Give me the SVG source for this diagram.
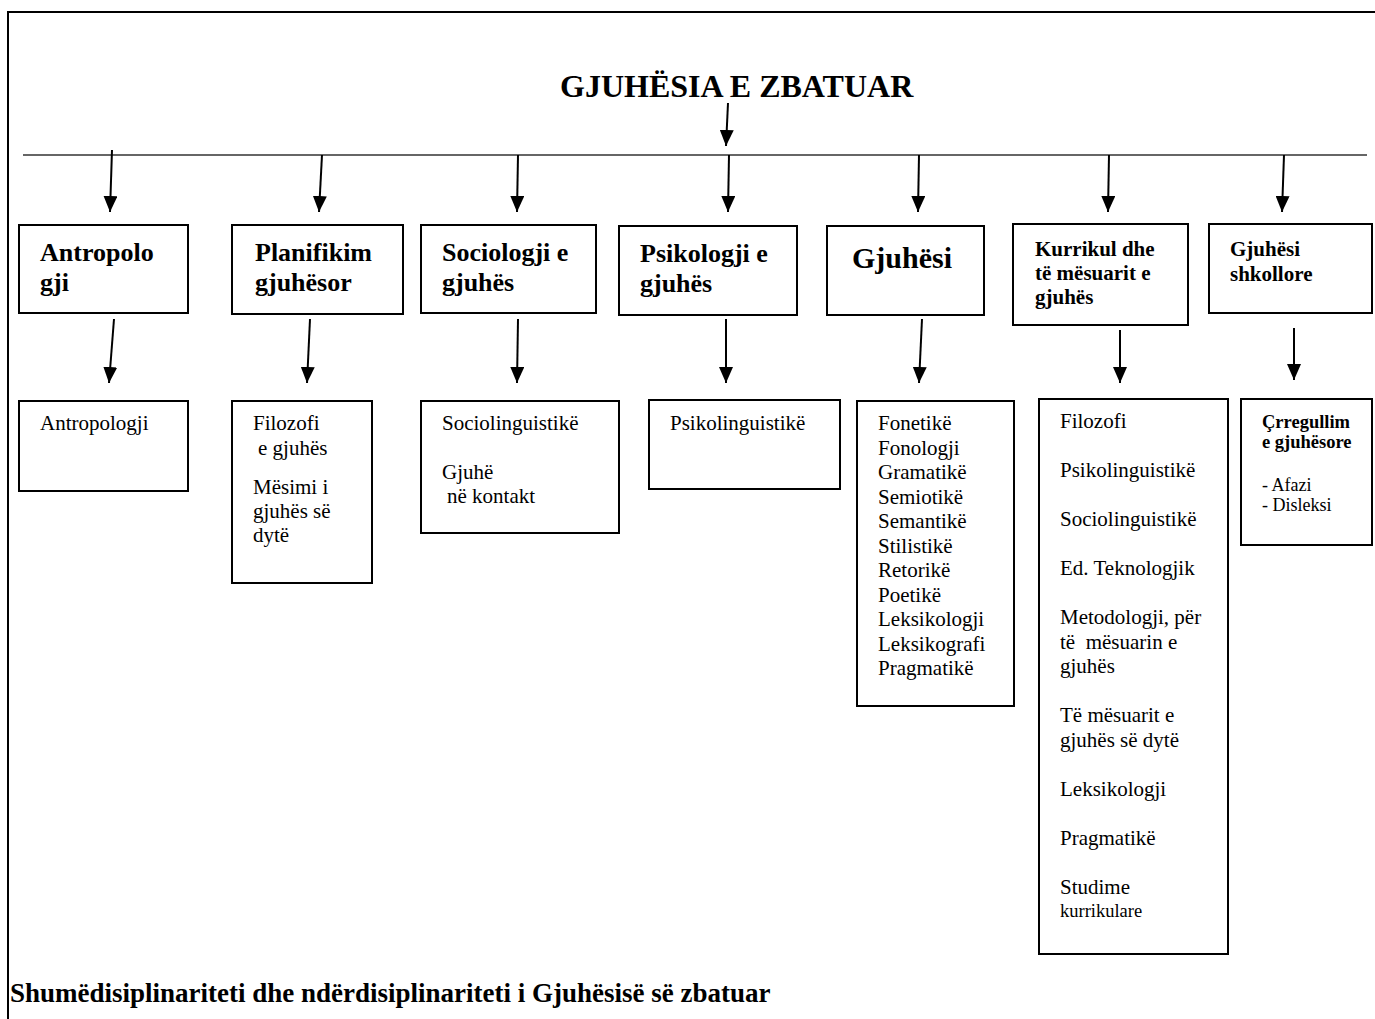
<svg xmlns="http://www.w3.org/2000/svg" width="1375" height="1019" viewBox="0 0 1375 1019">
<defs>
<marker id="ah" viewBox="0 0 16 14" refX="16" refY="7" markerWidth="16" markerHeight="14" markerUnits="userSpaceOnUse" orient="auto">
<path d="M0,0 L16,7 L0,14 z" fill="#000"/>
</marker>
<style>
text{font-family:"Liberation Serif","Times New Roman",serif;fill:#000}
.b{font-weight:bold}
.h{font-size:26px;font-weight:bold}
.m{font-size:21px;font-weight:bold}
.t{font-size:21px}
.box{fill:#fff;stroke:#000;stroke-width:2}
.c{stroke:#000;stroke-width:2;fill:none;marker-end:url(#ah)}
</style>
</defs>
<rect width="1375" height="1019" fill="#fff"/>
<path d="M8,1019 L8,12 L1375,12" fill="none" stroke="#000" stroke-width="2"/>
<g id="title"><text x="560" y="97" class="b" style="font-size:32px">GJUHËSIA E ZBATUAR</text></g>
<line x1="23" y1="155" x2="1367" y2="155" stroke="#333" stroke-width="1.5"/>
<g id="connectors">
<line class="c" x1="728" y1="103" x2="726" y2="146"/>
<line class="c" x1="112" y1="150" x2="110" y2="212"/>
<line class="c" x1="322" y1="155" x2="319" y2="212"/>
<line class="c" x1="518" y1="155" x2="517" y2="212"/>
<line class="c" x1="729" y1="155" x2="728" y2="212"/>
<line class="c" x1="919" y1="155" x2="918" y2="212"/>
<line class="c" x1="1109" y1="155" x2="1108" y2="212"/>
<line class="c" x1="1284" y1="155" x2="1282" y2="212"/>
<line class="c" x1="114" y1="319" x2="109" y2="383"/>
<line class="c" x1="310" y1="319" x2="307" y2="383"/>
<line class="c" x1="518" y1="319" x2="517" y2="383"/>
<line class="c" x1="726" y1="319" x2="726" y2="383"/>
<line class="c" x1="922" y1="319" x2="919" y2="383"/>
<line class="c" x1="1120" y1="330" x2="1120" y2="383"/>
<line class="c" x1="1294" y1="328" x2="1294" y2="380"/>
</g>
<g id="n-antropologji"><rect class="box" x="19" y="225" width="169" height="88"/><text class="h" x="40" y="261">Antropolo</text><text class="h" x="40" y="291">gji</text></g>
<g id="n-planifikim"><rect class="box" x="232" y="225" width="171" height="89"/><text class="h" x="255" y="261">Planifikim</text><text class="h" x="255" y="291">gjuhësor</text></g>
<g id="n-sociologji"><rect class="box" x="421" y="225" width="175" height="88"/><text class="h" x="442" y="261">Sociologji e</text><text class="h" x="442" y="291">gjuhës</text></g>
<g id="n-psikologji"><rect class="box" x="619" y="226" width="178" height="89"/><text class="h" x="640" y="262">Psikologji e</text><text class="h" x="640" y="292">gjuhës</text></g>
<g id="n-gjuhesi"><rect class="box" x="827" y="226" width="157" height="89"/><text class="b" x="852" y="268" style="font-size:30px">Gjuhësi</text></g>
<g id="n-kurrikul"><rect class="box" x="1013" y="224" width="175" height="101"/><text class="m" x="1035" y="256">Kurrikul dhe</text><text class="m" x="1035" y="280">të mësuarit e</text><text class="m" x="1035" y="304">gjuhës</text></g>
<g id="n-shkollore"><rect class="box" x="1209" y="224" width="163" height="89"/><text class="m" x="1230" y="256">Gjuhësi</text><text class="m" x="1230" y="281">shkollore</text></g>
<g id="l-antropologji"><rect class="box" x="19" y="401" width="169" height="90"/><text class="t" x="40" y="430">Antropologji</text></g>
<g id="l-filozofi"><rect class="box" x="232" y="401" width="140" height="182"/><text class="t" x="253" y="430">Filozofi</text><text class="t" x="258" y="455">e gjuhës</text><text class="t" x="253" y="494">Mësimi i</text><text class="t" x="253" y="518">gjuhës së</text><text class="t" x="253" y="542">dytë</text></g>
<g id="l-socio"><rect class="box" x="421" y="401" width="198" height="132"/><text class="t" x="442" y="430">Sociolinguistikë</text><text class="t" x="442" y="479">Gjuhë</text><text class="t" x="447" y="503">në kontakt</text></g>
<g id="l-psiko"><rect class="box" x="649" y="400" width="191" height="89"/><text class="t" x="670" y="430">Psikolinguistikë</text></g>
<g id="l-gjuhesi"><rect class="box" x="857" y="401" width="157" height="305"/>
<text class="t" x="878" y="430">Fonetikë</text><text class="t" x="878" y="454.5">Fonologji</text><text class="t" x="878" y="479">Gramatikë</text><text class="t" x="878" y="503.5">Semiotikë</text><text class="t" x="878" y="528">Semantikë</text><text class="t" x="878" y="552.5">Stilistikë</text><text class="t" x="878" y="577">Retorikë</text><text class="t" x="878" y="601.5">Poetikë</text><text class="t" x="878" y="626">Leksikologji</text><text class="t" x="878" y="650.5">Leksikografi</text><text class="t" x="878" y="675">Pragmatikë</text></g>
<g id="l-kurrikul"><rect class="box" x="1039" y="399" width="189" height="555"/>
<text class="t" x="1060" y="428">Filozofi</text><text class="t" x="1060" y="477">Psikolinguistikë</text><text class="t" x="1060" y="526">Sociolinguistikë</text><text class="t" x="1060" y="575">Ed. Teknologjik</text><text class="t" x="1060" y="624">Metodologji, për</text><text class="t" x="1060" y="648.5">të&#160; mësuarin e</text><text class="t" x="1060" y="673">gjuhës</text><text class="t" x="1060" y="722">Të mësuarit e</text><text class="t" x="1060" y="746.5">gjuhës së dytë</text><text class="t" x="1060" y="795.5">Leksikologji</text><text class="t" x="1060" y="844.5">Pragmatikë</text><text class="t" x="1060" y="893.5">Studime</text><text x="1060" y="917" style="font-size:18.5px">kurrikulare</text></g>
<g id="l-shkollore"><rect class="box" x="1241" y="399" width="131" height="146"/><text class="b" x="1262" y="428" style="font-size:18.5px">Çrregullim</text><text class="b" x="1262" y="448" style="font-size:18.5px">e gjuhësore</text><text x="1262" y="491" style="font-size:18px">- Afazi</text><text x="1262" y="511" style="font-size:18px">- Disleksi</text></g>
<g id="caption"><text class="b" x="10" y="1002" style="font-size:27px">Shumëdisiplinariteti dhe ndërdisiplinariteti i Gjuhësisë së zbatuar</text></g>
</svg>
